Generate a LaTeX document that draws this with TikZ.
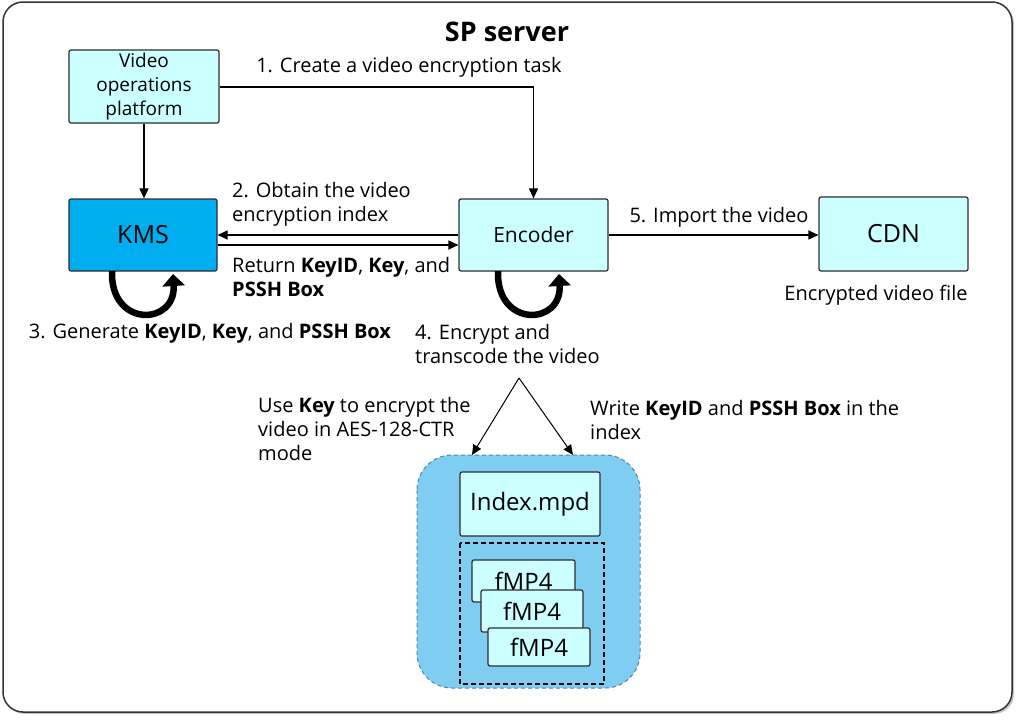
\documentclass[tikz,border=0pt]{standalone}
\usepackage{fontspec}
\setmainfont{Open Sans}
\usetikzlibrary{arrows.meta,shadows}
\definecolor{lcyan}{RGB}{204,255,255}
\definecolor{kmsblue}{RGB}{0,174,239}
\definecolor{contblue}{RGB}{128,205,242}
\definecolor{contedge}{RGB}{80,130,170}
\definecolor{edgec}{RGB}{45,45,45}
\begin{document}
\begin{tikzpicture}[x=1pt,y=-1pt,
  box/.style={draw=edgec, line width=1.2pt, fill=lcyan, rounded corners=2pt, align=center, font=\fontsize{19}{24}\selectfont, inner sep=0pt},
  lbl/.style={align=left, font=\fontsize{20}{24}\selectfont, inner sep=0pt},
  conn/.style={line width=1.2pt, -{Triangle[length=10pt,width=9pt]}},
  thin/.style={line width=1pt, -{Triangle[length=10pt,width=9pt]}},
  loopar/.style={line width=6.5pt, -{Triangle[length=12pt,width=22pt]}},
]
\useasboundingbox (0,0) rectangle (1017,720);
% frame
\draw[line width=1.5pt, draw=black!80, fill=white, rounded corners=20pt,
  drop shadow={shadow xshift=2pt, shadow yshift=-2pt, opacity=0.45}] (3,2) rectangle (1012,712);
\node[font=\fontsize{27}{30}\selectfont\bfseries] (title) at (507,32) {SP server};

% main boxes
\node[box, minimum width=150pt, minimum height=73pt] (vop) at (144,86.5) {Video\\operations\\platform};
\node[box, fill=kmsblue, minimum width=148pt, minimum height=72pt, font=\fontsize{25}{28}\selectfont] (kms) at (143,235) {KMS};
\node[box, minimum width=149pt, minimum height=72pt, font=\fontsize{21}{26}\selectfont] (enc) at (533.5,235) {Encoder};
\node[box, minimum width=149pt, minimum height=74pt, font=\fontsize{25}{28}\selectfont] (cdn) at (893.5,234) {CDN};

% connectors
\draw[conn] (vop.south) -- (vop.south |- kms.north);
\draw[conn] (vop.east |- 0,87) -| (enc.north);
\draw[conn] (enc.west) -- (kms.east);
\draw[conn] ([yshift=-10pt]kms.east) -- ([yshift=-10pt]enc.west);
\draw[conn] (enc.east) -- (enc.east -| cdn.west);

% labels
\node[lbl] (l1) at (409,67) {1. Create a video encryption task};
\node[lbl, anchor=west] (l2) at (232,204) {2. Obtain the video\\encryption index};
\node[lbl, anchor=west] (lret) at (232,277) {Return \textbf{KeyID}, \textbf{Key}, and\\\textbf{PSSH Box}};
\node[lbl] (l5) at (719,217) {5. Import the video};
\node[lbl] (lenc) at (876,295) {Encrypted video file};
\node[lbl] (l3) at (210,333) {3. Generate \textbf{KeyID}, \textbf{Key}, and \textbf{PSSH Box}};
\node[lbl, anchor=west] (l4) at (415,344) {4. Encrypt and\\transcode the video};
\node[lbl, anchor=west] (luse) at (258,429) {Use \textbf{Key} to encrypt the\\video in AES-128-CTR\\mode};
\node[lbl, anchor=west] (lwrite) at (590,420) {Write \textbf{KeyID} and \textbf{PSSH Box} in the\\index};

% loop arrows
\draw[loopar] (112,271) .. controls (110,328) and (176,326) .. (173,274);
\draw[loopar] (498,271) .. controls (496,328) and (562,326) .. (559,274);

% container
\draw[fill=contblue, draw=contedge, dash pattern=on 4pt off 3pt, line width=1pt, rounded corners=35pt] (417,455) rectangle (640,688);
\coordinate (apex) at (519,378);
\coordinate (cl) at (472,455);
\coordinate (cr) at (573,455);
\draw[thin] (apex) -- (cl);
\draw[thin] (apex) -- (cr);
\node[box, minimum width=140pt, minimum height=64pt, font=\fontsize{24}{28}\selectfont] (idx) at (530,504) {Index.mpd};
\draw[dash pattern=on 5pt off 3pt, line width=1.2pt] (460,543) rectangle (604,684);
\node[box, minimum width=103pt, minimum height=42pt, font=\fontsize{24}{28}\selectfont] (f1) at (523.5,581) {fMP4};
\node[box, minimum width=102pt, minimum height=42pt, font=\fontsize{24}{28}\selectfont] (f2) at (532,611) {fMP4};
\node[box, minimum width=102pt, minimum height=38pt, font=\fontsize{24}{28}\selectfont] (f3) at (539,647) {fMP4};
\end{tikzpicture}
\end{document}
